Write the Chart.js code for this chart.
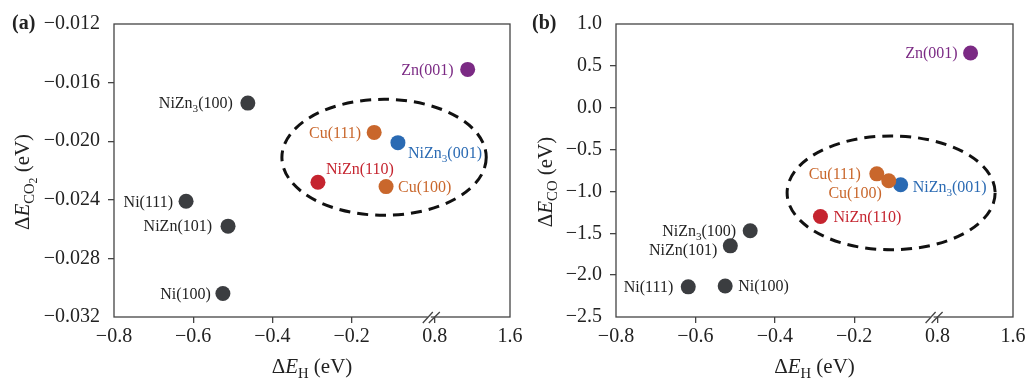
<!DOCTYPE html>
<html>
<head>
<meta charset="utf-8">
<script src="https://cdn.jsdelivr.net/npm/chart.js@4.4.1/dist/chart.umd.min.js"></script>
<style>
  body { margin: 0; background: #fff; }
  #wrap { position: relative; width: 1026px; height: 378px; }
  canvas { position: absolute; top: 0; }
</style>
</head>
<body>
<div id="wrap">
  <canvas id="chartA" width="530" height="378" style="left:0"></canvas>
  <canvas id="chartB" width="496" height="378" style="left:530px"></canvas>
</div>
<script>
// data
const surfaces = ['Zn(001)', 'NiZn3(100)', 'Cu(111)', 'NiZn3(001)', 'NiZn(110)', 'Cu(100)', 'Ni(111)', 'NiZn(101)', 'Ni(100)'];
const dEH   = [1.15, -0.462, -0.143, -0.083, -0.285, -0.113, -0.618, -0.512, -0.525];
const dECO2 = [-0.0151, -0.0174, -0.0194, -0.0201, -0.0228, -0.0231, -0.0241, -0.0258, -0.0304];
const dECO  = [0.654, -1.47, -0.79, -0.92, -1.30, -0.873, -2.14, -1.65, -2.13];

const xTickValues = [-0.8, -0.6, -0.4, -0.2, 0.8, 1.6];
const xTickLabels = ['\u22120.8', '\u22120.6', '\u22120.4', '\u22120.2', '0.8', '1.6'];
const yTickValuesA = [-0.032, -0.028, -0.024, -0.020, -0.016, -0.012];
const yTickLabelsA = ['\u22120.032', '\u22120.028', '\u22120.024', '\u22120.020', '\u22120.016', '\u22120.012'];
const yTickValuesB = [-2.5, -2.0, -1.5, -1.0, -0.5, 0.0, 0.5, 1.0];
const yTickLabelsB = ['\u22122.5', '\u22122.0', '\u22121.5', '\u22121.0', '\u22120.5', '0.0', '0.5', '1.0'];

// colours per surface
const DARK = '#3b3d40';
const pointColors = {
  'Zn(001)': '#7b2a84', 'NiZn3(100)': DARK, 'Cu(111)': '#c9672c', 'NiZn3(001)': '#2a6ab3',
  'NiZn(110)': '#c5242f', 'Cu(100)': '#c9672c', 'Ni(111)': DARK, 'NiZn(101)': DARK, 'Ni(100)': DARK
};

// label offsets [dx, dy, align]
const labelsA = {
  'Zn(001)': [-14, 0, 'right'], 'NiZn3(100)': [-15, 0, 'right'], 'Cu(111)': [-13, 0, 'right'],
  'NiZn3(001)': [10, 10, 'left'], 'NiZn(110)': [8, -14, 'left'], 'Cu(100)': [12, 0, 'left'],
  'Ni(111)': [-13, 0, 'right'], 'NiZn(101)': [-16, 0, 'right'], 'Ni(100)': [-12, 0, 'right']
};
const labelsB = {
  'Zn(001)': [-13, 0, 'right'], 'NiZn3(100)': [-14, 0, 'right'], 'Cu(111)': [-16, 0, 'right'],
  'NiZn3(001)': [12, 2, 'left'], 'NiZn(110)': [13, 0, 'left'], 'Cu(100)': [-7, 12, 'right'],
  'Ni(111)': [-15, 0, 'right'], 'NiZn(101)': [-13, 4, 'right'], 'Ni(100)': [13, 0, 'left']
};

// dashed ellipses, in axis units
const ellipseA = { cx: -0.118, cy: -0.0211, rx: 0.258, ry: 0.00396 };
const ellipseB = { cx: -0.107, cy: -1.017, rx: 0.262, ry: 0.68 };

// broken x axis: 0.8..1.6 squeezed after 0.0
function toAxis(x) {
  return x <= 0.4 ? x : 0.01 + (x - 0.8) * 0.2375;
}

const SERIF = '"Liberation Serif", "Times New Roman", serif';

function partFont(p, size) {
  let sz = size;
  if (p[1] == 's') sz = size * 0.7;
  if (p[1] == 'ss') sz = size * 0.55;
  return (p[1] == 'i' ? 'italic ' : '') + (p[2] ? 'bold ' : '') + sz + 'px ' + SERIF;
}

function drawRich(ctx, parts, x, y, size, align, color) {
  let w = 0;
  parts.forEach(p => { ctx.font = partFont(p, size); w += ctx.measureText(p[0]).width; });
  let cx = align == 'right' ? x - w : align == 'center' ? x - w / 2 : x;
  const base = y + 0.33 * size;
  ctx.fillStyle = color;
  ctx.textAlign = 'left';
  ctx.textBaseline = 'alphabetic';
  parts.forEach(p => {
    ctx.font = partFont(p, size);
    let dy = 0;
    if (p[1] == 's') dy = size * 0.25;
    if (p[1] == 'ss') dy = size * 0.4;
    ctx.fillText(p[0], cx, base + dy);
    cx += ctx.measureText(p[0]).width;
  });
}

function nameParts(name) {
  const m = name.match(/^([A-Za-z]+)(\d?)(\(.*\))$/);
  const parts = [[m[1], '']];
  if (m[2]) parts.push([m[2], 's']);
  parts.push([m[3], '']);
  return parts;
}

function makeDecor(cfg) {
  return {
    id: 'decor',
    afterDraw(chart) {
      const ctx = chart.ctx, a = chart.chartArea;
      const xs = chart.scales.x, ys = chart.scales.y;
      ctx.save();
      // frame
      ctx.strokeStyle = '#444';
      ctx.lineWidth = 1.3;
      ctx.strokeRect(a.left, a.top, a.right - a.left, a.bottom - a.top);

      // axis break marks
      const bx = xs.getPixelForValue(0) + 1, by = a.bottom;
      ctx.fillStyle = '#fff';
      ctx.fillRect(bx - 4, by - 1, 3, 2);
      ctx.beginPath();
      ctx.moveTo(bx - 9, by + 6); ctx.lineTo(bx + 1, by - 5);
      ctx.moveTo(bx - 3, by + 6); ctx.lineTo(bx + 8, by - 5);
      ctx.stroke();

      // dashed ellipse
      const e = cfg.ellipse;
      const ex = xs.getPixelForValue(e.cx), ey = ys.getPixelForValue(e.cy);
      const erx = xs.getPixelForValue(e.cx + e.rx) - ex;
      const ery = ey - ys.getPixelForValue(e.cy + e.ry);
      ctx.beginPath();
      ctx.setLineDash([11, 7]);
      ctx.lineWidth = 3;
      ctx.strokeStyle = '#111';
      ctx.ellipse(ex, ey, erx, ery, 0, 0, Math.PI * 2);
      ctx.stroke();
      ctx.setLineDash([]);

      // point labels
      const meta = chart.getDatasetMeta(0);
      surfaces.forEach((s, i) => {
        const pt = meta.data[i];
        const off = cfg.labels[s];
        const col = pointColors[s] == DARK ? '#222' : pointColors[s];
        drawRich(ctx, nameParts(s), pt.x + off[0], pt.y + off[1], 16, off[2], col);
      });

      // axis titles
      drawRich(ctx, [['\u0394', ''], ['E', 'i'], ['H', 's'], [' (eV)', '']],
        (a.left + a.right) / 2, 366, 21, 'center', '#222');
      ctx.save();
      ctx.translate(cfg.yTitleX, 182);
      ctx.rotate(-Math.PI / 2);
      drawRich(ctx, cfg.yTitle, 0, 0, 21, 'center', '#222');
      ctx.restore();

      // panel letter
      drawRich(ctx, [[cfg.panel, '', true]], cfg.panelX, 22, 20, 'left', '#222');
      ctx.restore();
    }
  };
}

function makeChart(id, ys, yTickValues, yTickLabels, cfg) {
  const edgeX = c => (c.index == 0 || c.index == xTickValues.length - 1) ? 'rgba(0,0,0,0)' : '#444';
  const edgeY = c => (c.index == 0 || c.index == yTickValues.length - 1) ? 'rgba(0,0,0,0)' : '#444';
  return new Chart(document.getElementById(id), {
    type: 'scatter',
    data: {
      datasets: [{
        data: dEH.map((x, i) => ({ x: toAxis(x), y: ys[i] })),
        pointRadius: 7.5,
        pointHoverRadius: 7.5,
        pointBackgroundColor: surfaces.map(s => pointColors[s]),
        pointBorderWidth: 0,
        borderWidth: 0
      }]
    },
    options: {
      responsive: false,
      animation: false,
      devicePixelRatio: 1,
      layout: { padding: { top: 24, right: cfg.padRight, left: 0, bottom: 0 } },
      plugins: { legend: { display: false }, tooltip: { enabled: false } },
      scales: {
        x: {
          type: 'linear', min: -0.8, max: toAxis(1.6),
          afterBuildTicks: s => { s.ticks = xTickValues.map(v => ({ value: toAxis(v) })); },
          afterFit: s => { s.height = 61; s.paddingLeft = 0; s.paddingRight = 0; },
          ticks: {
            callback: (v, i) => xTickLabels[i],
            font: { family: SERIF, size: 20 }, color: '#222',
            padding: 2, maxRotation: 0, autoSkip: false
          },
          grid: { drawOnChartArea: false, tickLength: 6, color: edgeX, lineWidth: 1.3 },
          border: { display: false }
        },
        y: {
          type: 'linear', min: yTickValues[0], max: yTickValues[yTickValues.length - 1],
          afterBuildTicks: s => { s.ticks = yTickValues.map(v => ({ value: v })); },
          afterFit: s => { s.width = cfg.yWidth; s.paddingTop = 0; s.paddingBottom = 0; },
          ticks: {
            callback: (v, i) => yTickLabels[i],
            font: { family: SERIF, size: 20 }, color: '#222',
            padding: 8, autoSkip: false
          },
          grid: { drawOnChartArea: false, tickLength: 6, color: edgeY, lineWidth: 1.3 },
          border: { display: false }
        }
      }
    },
    plugins: [makeDecor(cfg)]
  });
}

makeChart('chartA', dECO2, yTickValuesA, yTickLabelsA, {
  padRight: 20, yWidth: 114, ellipse: ellipseA, labels: labelsA, panel: '(a)', panelX: 12, yTitleX: 22,
  yTitle: [['\u0394', ''], ['E', 'i'], ['CO', 's'], ['2', 'ss'], [' (eV)', '']]
});
makeChart('chartB', dECO, yTickValuesB, yTickLabelsB, {
  padRight: 13, yWidth: 86, ellipse: ellipseB, labels: labelsB, panel: '(b)', panelX: 2, yTitleX: 15,
  yTitle: [['\u0394', ''], ['E', 'i'], ['CO', 's'], [' (eV)', '']]
});
</script>
</body>
</html>
